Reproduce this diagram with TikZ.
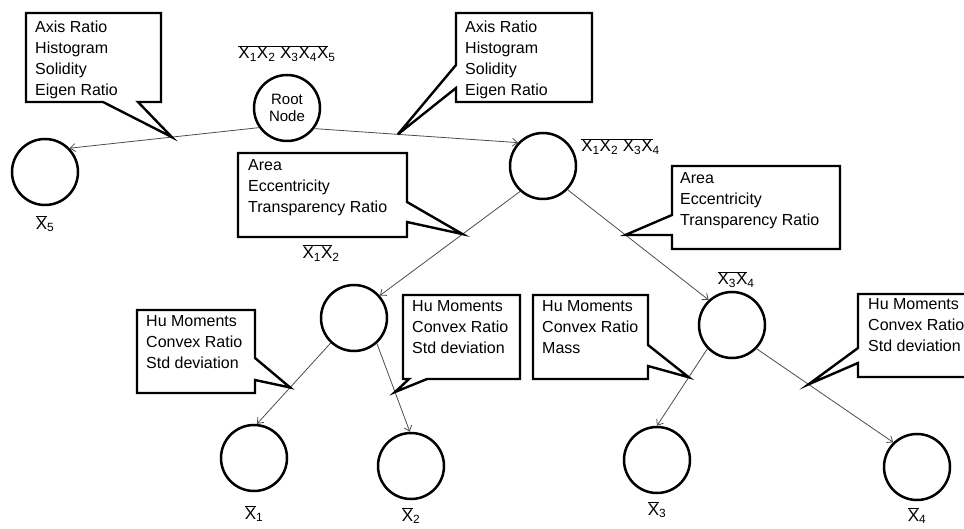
\documentclass[tikz,border=0pt]{standalone}
\usepackage{fontspec}
\setmainfont{Liberation Sans}
\usetikzlibrary{arrows.meta, positioning}

\newcommand{\Xs}[1]{X\textsubscript{#1}}
\newcommand{\cmpl}[2]{$\overline{\mbox{#1X}}$\textsubscript{#2}}

\begin{document}
\begin{tikzpicture}[x=1pt, y=1pt,
  leaf/.style={circle, draw=black, line width=2.5pt, minimum size=66pt, inner sep=0pt},
  edge/.style={draw=black!70, line width=0.8pt, -{Straight Barb[length=5pt, width=8pt]}},
  callout/.style={draw=black, line width=2.4pt, line join=miter},
  feat/.style={anchor=north west, align=left, inner sep=0pt, font=\fontsize{16}{21}\selectfont},
  lbl/.style={inner sep=1pt, font=\fontsize{17}{20}\selectfont}
]
\useasboundingbox (0,0) rectangle (964,-529);

% tree nodes
\node[leaf, font=\fontsize{15}{17}\selectfont, align=center] (root) at (287,-108) {Root\\Node};
\node[leaf] (x5) at (45,-172) {};
\node[leaf] (x1234) at (543,-166) {};
\node[leaf] (x12) at (354,-318) {};
\node[leaf] (x34) at (732,-325) {};
\node[leaf] (x1) at (254,-458) {};
\node[leaf] (x2) at (411,-466) {};
\node[leaf] (x3) at (657,-460) {};
\node[leaf] (x4) at (917,-467) {};

% class labels
\node[lbl, above=11pt of root] (lroot) {\cmpl{\Xs1\Xs2 \Xs3\Xs4}{5}};
\node[lbl, anchor=west, right=9pt of x1234.35] (l1234) {\cmpl{\Xs1\Xs2 \Xs3}{4}};
\node[lbl] (l12) at (321,-253) {\cmpl{\Xs1}{2}};
\node[lbl, above=2pt of x34, xshift=4pt] (l34) {\cmpl{\Xs3}{4}};
\node[lbl, below=8pt of x5] (l5) {\cmpl{}{5}};
\node[lbl, below=12pt of x1] (l1) {\cmpl{}{1}};
\node[lbl, below=6pt of x2] (l2) {\cmpl{}{2}};
\node[lbl, below=6pt of x3] (l3) {\cmpl{}{3}};
\node[lbl, below=5pt of x4] (l4) {\cmpl{}{4}};

% splits
\draw[edge] (root.215) -- coordinate[pos=0.46] (t1) (x5.44);
\draw[edge] (root.-37) -- coordinate[pos=0.41] (t2) (x1234.137);
\draw[edge] (x1234.228) -- coordinate[pos=0.41] (t3) (x12.41);
\draw[edge] (x1234.-44) -- coordinate[pos=0.41] (t4) (x34.133);
\draw[edge] (x12.227) -- coordinate[pos=0.55] (t5) (x1.85);
\draw[edge] (x12.-48) -- coordinate[pos=0.55] (t6) (x2.92);
\draw[edge] (x34.224) -- coordinate[pos=0.37] (t7) (x3.90);
\draw[edge] (x34.-44) -- coordinate[pos=0.38] (t8) (x4.134);

% feature callouts
\draw[callout] (26,-13) -- (161,-13) -- (161,-102) -- (138,-102) -- (t1) -- (103,-102) -- (26,-102) -- cycle;
\node[feat] (f1) at (35,-21) {Axis Ratio\\Histogram\\Solidity\\Eigen Ratio};

\draw[callout] (456,-13) -- (592,-13) -- (592,-102) -- (456,-102) -- (456,-88) -- (t2) -- (456,-65) -- cycle;
\node[feat] (f2) at (465,-21) {Axis Ratio\\Histogram\\Solidity\\Eigen Ratio};

\draw[callout] (238,-153) -- (407,-153) -- (407,-202) -- (t3) -- (407,-222) -- (407,-237) -- (238,-237) -- cycle;
\node[feat] (f3) at (248,-159) {Area\\Eccentricity\\Transparency Ratio};

\draw[callout] (672,-166) -- (840,-166) -- (840,-249) -- (672,-249) -- (672,-235) -- (t4) -- (672,-215) -- cycle;
\node[feat] (f4) at (680,-172) {Area\\Eccentricity\\Transparency Ratio};

\draw[callout] (137,-310) -- (255,-310) -- (255,-358) -- (t5) -- (255,-380) -- (255,-393) -- (137,-393) -- cycle;
\node[feat] (f5) at (146,-315) {Hu Moments\\Convex Ratio\\Std deviation};

\draw[callout] (403,-295) -- (520,-295) -- (520,-379) -- (427,-379) -- (t6) -- (409,-379) -- (403,-379) -- cycle;
\node[feat] (f6) at (412,-300) {Hu Moments\\Convex Ratio\\Std deviation};

\draw[callout] (533,-295) -- (648,-295) -- (648,-345) -- (t7) -- (648,-366) -- (648,-379) -- (533,-379) -- cycle;
\node[feat] (f7) at (542,-300) {Hu Moments\\Convex Ratio\\Mass};

\draw[callout] (858,-294) -- (985,-294) -- (985,-377) -- (858,-377) -- (858,-363) -- (t8) -- (858,-348) -- cycle;
\node[feat] (f8) at (868,-298) {Hu Moments\\Convex Ratio\\Std deviation};

\end{tikzpicture}
\end{document}
